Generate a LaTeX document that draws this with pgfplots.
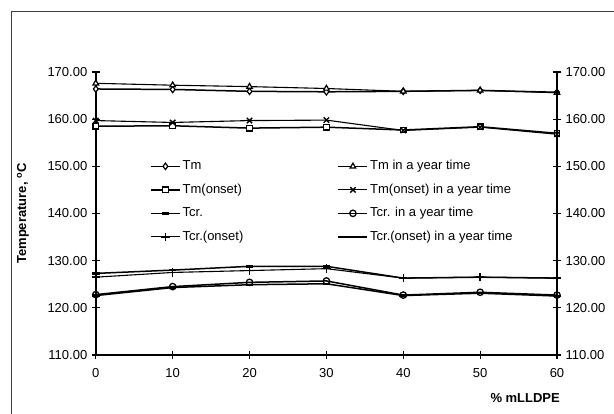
\documentclass[border=0pt]{standalone}
\usepackage{fontspec}
\setmainfont{Liberation Sans}
\usepackage{pgfplots}
\pgfplotsset{compat=1.18}
\pgfplotsset{
  commonax/.style={
    at={(95.8pt,59pt)}, anchor=south west,
    scale only axis, width=461.2pt, height=283pt,
    xmin=0, xmax=60, ymin=110, ymax=170,
    xtick={0,10,...,60}, ytick={110,120,...,170},
    axis line style={line width=1.5pt},
    tick align=center, major tick length=8pt,
    tick style={line width=1.1pt, black},
    /pgf/number format/assume math mode=true,
    xticklabel style={yshift=-5pt},
    yticklabel style={/pgf/number format/.cd, fixed, fixed zerofill, precision=2, assume math mode=true},
  },
  s/.style={black, line width=1.5pt, mark size=3.2pt},
}
\begin{document}
\fontsize{13}{15}\selectfont
\begin{tikzpicture}[x=1pt,y=1pt]
\useasboundingbox (0,0) rectangle (614,414);
\draw[line width=1pt, black!75] (11,0) -- (11,402.5) -- (614,402.5);
\begin{axis}[commonax,
  axis x line*=bottom, axis y line*=left,
  ylabel={\textbf{Temperature, \textsuperscript{o}C}},
  ylabel style={at={(axis description cs:-0.158,0.5)}, anchor=center},
  xlabel={\textbf{\% mLLDPE}},
  xlabel style={at={(axis description cs:0.931,-0.152)}, anchor=center},
  legend columns=2,
  legend style={at={(axis description cs:0.1175,0.689)}, anchor=north west,
    draw=none, fill=none, inner sep=0pt, column sep=2pt, row sep=11.2pt,
    nodes={inner sep=0pt, text height=9.5pt, text depth=2.8pt, anchor=west}},
  legend cell align=left,
  legend image code/.code={\draw[mark repeat=2,mark phase=2,#1] plot coordinates {(0pt,0pt) (14.5pt,0pt) (29pt,0pt)};},
]
\addplot[s, mark=diamond*, mark options={fill=white, solid, line width=1.2pt}] coordinates {(0,166.4) (10,166.3) (20,165.9) (30,165.8) (40,165.9) (50,166.1) (60,165.7)};
\addlegendentry{\makebox[153pt][l]{Tm}}
\addplot[s, line width=1.1pt, mark=triangle*, mark options={fill=white, solid, line width=1.2pt}] coordinates {(0,167.6) (10,167.2) (20,166.9) (30,166.5) (40,165.9) (50,166.1) (60,165.6)};
\addlegendentry{Tm in a year time}
\addplot[s, mark=square*, mark size=2.8pt, mark options={fill=white, solid, line width=1.2pt}] coordinates {(0,158.5) (10,158.6) (20,158.1) (30,158.3) (40,157.7) (50,158.4) (60,157.0)};
\addlegendentry{\makebox[153pt][l]{Tm(onset)}}
\addplot[s, line width=1.1pt, mark=x, mark size=3.8pt, mark options={line width=1.4pt}] coordinates {(0,159.7) (10,159.3) (20,159.7) (30,159.8) (40,157.6) (50,158.3) (60,156.8)};
\addlegendentry{Tm(onset) in a year time}
\addplot[s, mark=-, mark size=3.8pt, mark options={line width=2.4pt}] coordinates {(0,122.6) (10,124.3) (20,124.9) (30,125.1) (40,122.6) (50,123.1) (60,122.5)};
\addlegendentry{\makebox[153pt][l]{Tcr.}}
\addplot[s, mark=o, mark options={line width=1.3pt}] coordinates {(0,122.8) (10,124.5) (20,125.4) (30,125.7) (40,122.7) (50,123.3) (60,122.7)};
\addlegendentry{Tcr. in a year time}
\addplot[s, line width=1.1pt, mark=+, mark size=4.2pt, mark options={line width=1.4pt}] coordinates {(0,126.5) (10,127.5) (20,127.9) (30,128.3) (40,126.3) (50,126.5) (60,126.3)};
\addlegendentry{\makebox[153pt][l]{Tcr.(onset)}}
\addplot[s, mark=-, mark size=3.8pt, mark options={line width=2.4pt}] coordinates {(0,127.3) (10,128.0) (20,128.8) (30,128.8) (40,126.3) (50,126.5) (60,126.3)};
\addlegendentry{Tcr.(onset) in a year time}
\end{axis}
\begin{axis}[commonax,
  axis x line=none, axis y line*=right,
]
\end{axis}
\end{tikzpicture}
\end{document}
